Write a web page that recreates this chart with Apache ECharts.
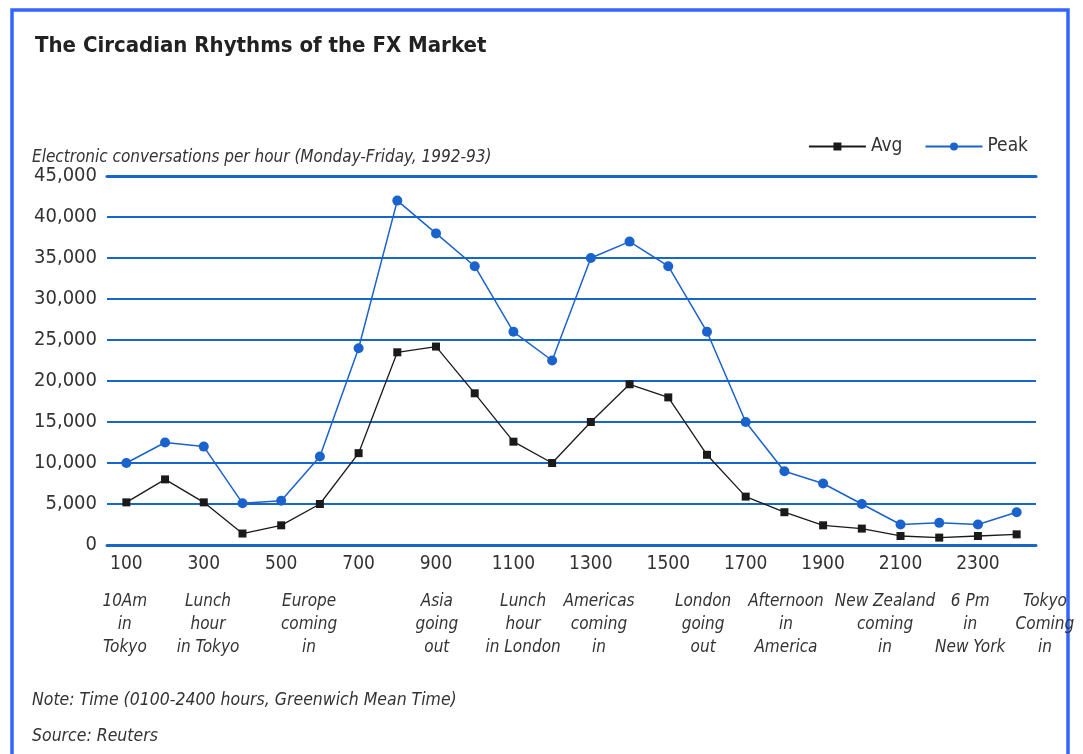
<!DOCTYPE html>
<html><head><meta charset="utf-8">
<script src="https://cdn.jsdelivr.net/npm/echarts@6/dist/echarts.min.js"></script>
<style>html,body{margin:0;padding:0;background:#fff;}#c{width:1083px;height:754px;}</style>
</head><body><div id="c"></div>
<script>
// ---- data ----
const hours = ['100','200','300','400','500','600','700','800','900','1000','1100','1200',
  '1300','1400','1500','1600','1700','1800','1900','2000','2100','2200','2300','2400'];
const avgValues = [5200,8000,5200,1400,2400,5000,11200,23500,24200,18500,12600,10000,
  15000,19600,18000,11000,5900,4000,2400,2000,1100,900,1100,1300];
const peakValues = [10000,12500,12000,5100,5400,10800,24000,42000,38000,34000,26000,22500,
  35000,37000,34000,26000,15000,9000,7500,5000,2500,2700,2500,4000];
const yMax = 45000, yStep = 5000;
// annotation text and its position in hours along the time axis
const annotationTexts = ['10Am\nin\nTokyo','Lunch\nhour\nin Tokyo','Europe\ncoming\nin','Asia\ngoing\nout',
  'Lunch\nhour\nin London','Americas\ncoming\nin','London\ngoing\nout','Afternoon\nin\nAmerica',
  'New Zealand\ncoming\nin','6 Pm\nin\nNew York','Tokyo\nComing\nin'];
const annotationAt = [46,261,522,852,1075,1271,1540,1754,2010,2230,2423];

const BLUE = '#1767c8';
const PEAK = '#1a62cc';
const FONT = "'Liberation Sans Narrow','DejaVu Sans Condensed','Liberation Sans',sans-serif";

const chart = echarts.init(document.getElementById('c'));
chart.setOption({
  animation: false,
  backgroundColor: '#fff',
  textStyle: {fontFamily: FONT},
  title: {text: 'The Circadian Rhythms of the FX Market', left: 30, top: 30,
    textStyle: {fontFamily: FONT, fontSize: 22, fontWeight: 'bold', color: '#222'}},
  legend: {right: 50, top: 132, itemWidth: 57, itemHeight: 10, itemGap: 22,
    textStyle: {fontSize: 19, color: '#333', fontFamily: FONT}, data: ['Avg', 'Peak']},
  grid: {left: 107, right: 47, top: 176, bottom: 209},
  xAxis: [{
    type: 'category', data: hours, boundaryGap: true,
    axisLine: {lineStyle: {color: BLUE, width: 3}},
    axisTick: {inside: true, length: 12, interval: 0, lineStyle: {color: BLUE, width: 2}},
    axisLabel: {interval: 1, fontSize: 19, color: '#333', margin: 10, fontFamily: FONT}
  }, {
    type: 'value', position: 'top', min: 0, max: 2400,
    axisLine: {show: true, lineStyle: {color: BLUE, width: 3}},
    axisTick: {show: false}, axisLabel: {show: false}, splitLine: {show: false}
  }],
  yAxis: {
    type: 'value', min: 0, max: yMax, interval: yStep,
    axisLine: {show: false}, axisTick: {show: false},
    axisLabel: {fontSize: 20, color: '#333', margin: 10, fontFamily: FONT, padding: [8, 0, 0, 0],
      formatter: v => v.toLocaleString('en-US')},
    splitLine: {lineStyle: {color: BLUE, width: 2}}
  },
  series: [
    {name: 'Peak', type: 'line', data: peakValues, symbol: 'circle', symbolSize: 10,
      itemStyle: {color: PEAK}, lineStyle: {color: PEAK, width: 1.5}},
    {name: 'Avg', type: 'line', data: avgValues, symbol: 'rect', symbolSize: 8,
      itemStyle: {color: '#1a1a1a'}, lineStyle: {color: '#1a1a1a', width: 1.3}}
  ]
});

const graphics = [
  {type: 'rect', shape: {x: 12, y: 10, width: 1056, height: 800},
    style: {fill: 'none', stroke: '#3366ff', lineWidth: 3.5}, silent: true},
  {type: 'text', x: 32, y: 158, style: {text: 'Electronic conversations per hour (Monday-Friday, 1992-93)',
    fill: '#333', fontSize: 17, fontStyle: 'italic', fontFamily: FONT, verticalAlign: 'middle'}},
  {type: 'text', x: 32, y: 700, style: {text: 'Note: Time (0100-2400 hours, Greenwich Mean Time)',
    fill: '#333', fontSize: 17.5, fontStyle: 'italic', fontFamily: FONT, verticalAlign: 'middle'}},
  {type: 'text', x: 32, y: 736, style: {text: 'Source: Reuters',
    fill: '#333', fontSize: 17.5, fontStyle: 'italic', fontFamily: FONT, verticalAlign: 'middle'}}
];
annotationTexts.forEach((t, i) => {
  graphics.push({type: 'text', x: chart.convertToPixel({xAxisIndex: 1}, annotationAt[i]), y: 590,
    style: {text: t, fill: '#333', fontSize: 17, fontStyle: 'italic', fontFamily: FONT,
      align: 'center', verticalAlign: 'top', lineHeight: 23}});
});
chart.setOption({graphic: graphics});
</script>
</body></html>
